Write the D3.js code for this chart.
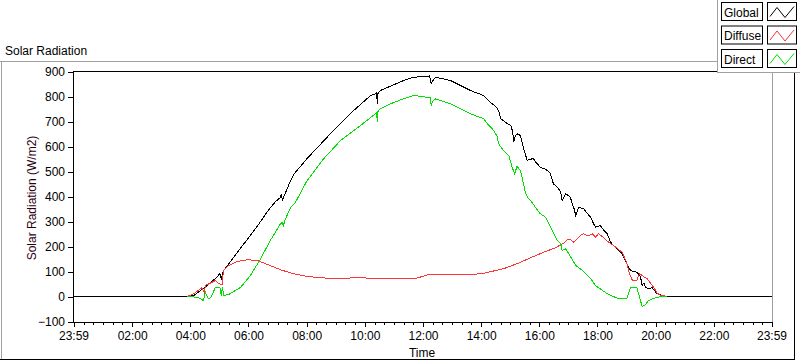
<!DOCTYPE html>
<html>
<head>
<meta charset="utf-8">
<script src="https://cdn.jsdelivr.net/npm/d3@7"></script>
<style>
  html, body { margin: 0; padding: 0; background: #fff; }
  svg { display: block; }
  text { font-family: "Liberation Sans", Arial, sans-serif; fill: #000; }
</style>
</head>
<body>
<svg id="chart" width="800" height="361"></svg>
<script>
// ---------------- DATA ----------------
const seriesNames = ["Global", "Diffuse", "Direct"];
const seriesColors = ["#000000", "#ff3333", "#00e000"];

const xTickTimes  = ["-00:01","02:00","04:00","06:00","08:00","10:00","12:00","14:00","16:00","18:00","20:00","22:00","23:59"];
const xTickLabels = ["23:59","02:00","04:00","06:00","08:00","10:00","12:00","14:00","16:00","18:00","20:00","22:00","23:59"];
const yTicks = [-100, 0, 100, 200, 300, 400, 500, 600, 700, 800, 900];

const globalTimes = ["-00:01","03:54","04:07","04:21","04:31","04:42","04:52","05:01","05:04","05:08","05:30","06:00","06:20","06:39","06:55","07:06","07:08","07:10","07:13","07:27","07:33","08:01","08:49","09:37","10:12","10:22","10:24","10:26","10:27","10:32","11:20","11:41","12:11","12:13","12:15","12:17","12:20","12:26","12:57","13:38","14:05","14:19","14:30","14:36","14:40","14:50","15:01","15:05","15:07","15:10","15:14","15:21","15:27","15:35","15:40","15:48","15:52","15:56","16:02","16:09","16:16","16:23","16:29","16:37","16:44","16:47","16:54","17:00","17:04","17:08","17:12","17:15","17:21","17:26","17:31","17:40","17:46","17:52","17:56","18:06","18:14","18:20","18:27","18:37","18:51","19:01","19:08","19:15","19:22","19:29","19:32","19:36","19:39","19:45","19:53","20:03","20:16","20:24","23:59"];
const globalValues = [0,0,4,24,37,57,72,91,71,101,158,235,286,340,378,396,411,384,400,464,488,552,651,744,804,811,815,771,812,824,864,877,881,882,870,851,862,877,864,824,804,777,760,744,712,697,684,660,617,640,651,644,597,544,548,552,538,531,517,512,505,491,451,437,420,384,411,404,397,371,350,324,357,354,352,330,317,291,277,284,262,251,217,197,171,131,104,100,97,77,44,55,37,31,35,11,3,0,0];

const diffuseTimes = ["03:54","04:07","04:21","04:24","04:27","04:29","04:31","04:45","04:52","04:58","05:06","05:07","05:09","05:19","05:37","05:57","06:18","06:39","07:06","07:33","08:01","08:29","08:55","09:30","09:51","10:32","11:00","11:41","11:55","12:11","13:00","13:38","14:05","14:46","15:14","15:48","16:09","16:33","16:50","16:58","17:04","17:11","17:18","17:25","17:31","17:36","17:42","17:49","17:56","18:02","18:12","18:23","18:33","18:51","19:01","19:05","19:12","19:21","19:25","19:27","19:35","19:43","19:50","19:56","20:03","20:10","20:24"];
const diffuseValues = [0,11,31,35,24,17,44,57,64,51,48,80,104,124,140,147,144,128,107,91,80,75,72,74,75,71,72,71,78,87,87,87,93,111,131,160,177,195,213,227,228,217,230,244,251,246,244,251,237,251,237,217,204,177,131,97,64,64,84,91,80,70,51,37,13,5,0];

const directTimes = ["03:54","04:07","04:17","04:27","04:31","04:37","04:42","04:52","05:01","05:04","05:06","05:09","05:19","05:44","06:04","06:25","06:45","07:06","07:10","07:12","07:14","07:27","07:37","08:01","08:35","09:10","09:51","10:22","10:24","10:26","10:27","10:32","10:53","11:20","11:41","12:09","12:15","12:17","12:20","12:26","12:57","13:38","14:05","14:16","14:26","14:33","14:36","14:46","14:57","15:04","15:09","15:14","15:21","15:32","15:36","15:42","15:47","15:52","16:02","16:13","16:27","16:37","16:44","16:47","16:54","17:01","17:15","17:29","17:46","17:56","18:20","18:41","19:01","19:08","19:21","19:25","19:32","19:39","19:45","20:03","20:16","20:24"];
const directValues = [0,-2,-5,-16,17,-9,-5,37,37,4,37,4,8,37,84,151,224,291,296,277,300,357,377,464,551,624,684,731,735,697,740,751,771,791,804,797,795,764,780,791,771,731,711,684,664,640,611,584,564,517,491,520,504,411,395,384,370,357,331,317,264,224,211,184,191,171,124,104,71,44,11,-7,-7,37,36,11,-40,-33,-16,-3,0,0];

// ---------------- CHART ----------------
const svg = d3.select("#chart");
const toMin = s => { const neg = s[0] === "-"; const [h, m] = s.replace("-", "").split(":").map(Number); return (neg ? -1 : 1) * (h * 60 + m); };

const x = d3.scaleLinear().domain([-1, 1439]).range([73.5, 771.5]);
const y = d3.scaleLinear().domain([-100, 900]).range([321.5, 71.5]);

// panel frame
svg.append("line").attr("x1", 0).attr("x2", 717).attr("y1", 61.5).attr("y2", 61.5).attr("stroke", "#a0a0a0");
svg.append("line").attr("x1", 1.5).attr("x2", 1.5).attr("y1", 61.5).attr("y2", 360).attr("stroke", "#a0a0a0");
svg.append("line").attr("x1", 0).attr("x2", 795).attr("y1", 359.5).attr("y2", 359.5).attr("stroke", "#000");
svg.append("line").attr("x1", 794.5).attr("x2", 794.5).attr("y1", 72).attr("y2", 360).attr("stroke", "#000");

svg.append("text").attr("x", 5).attr("y", 55).style("font-size", "12px").text("Solar Radiation");

// plot area
svg.append("rect").attr("x", 73.5).attr("y", 71.5).attr("width", 698).attr("height", 250)
  .attr("fill", "#fff").attr("stroke", "none");

// series
const series = [
  {times: globalTimes, values: globalValues},
  {times: diffuseTimes, values: diffuseValues},
  {times: directTimes, values: directValues}
];
const line = d3.line().x(d => x(d[0])).y(d => y(d[1]));
series.forEach((s, i) => {
  const pts = s.times.map((t, j) => [toMin(t), s.values[j]]);
  svg.append("path").datum(pts).attr("d", line)
    .attr("fill", "none").attr("stroke", seriesColors[i]).attr("stroke-width", 1)
    .style("shape-rendering", "crispEdges");
});

// frame lines of plot
svg.append("line").attr("x1", 73).attr("x2", 772).attr("y1", 71.5).attr("y2", 71.5).attr("stroke", "#000");
svg.append("line").attr("x1", 772.5).attr("x2", 772.5).attr("y1", 71).attr("y2", 322).attr("stroke", "#a0a0a0");

// y axis
const yAxis = d3.axisLeft(y).tickValues(yTicks).tickSize(5).tickPadding(3).tickFormat(d3.format("d"));
const gy = svg.append("g").attr("transform", "translate(73,0)").call(yAxis);
gy.select(".domain").attr("stroke", "#000").style("shape-rendering", "crispEdges");
gy.selectAll(".tick line").attr("stroke", "#000").style("shape-rendering", "crispEdges");
gy.selectAll("text").style("font-size", "12px").style("font-family", "Liberation Sans, Arial, sans-serif").attr("fill", "#000");

// x axis
const xMajor = xTickTimes.map(toMin);
const xMinor = d3.range(0, 1440, 20).filter(m => m > 0 && m < 1439 && m % 120 !== 0);
const gxMinor = svg.append("g").attr("transform", "translate(0,322)")
  .call(d3.axisBottom(x).tickValues(xMinor).tickSize(3).tickFormat(""));
gxMinor.select(".domain").remove();
gxMinor.selectAll(".tick line").attr("stroke", "#000").style("shape-rendering", "crispEdges");
const xAxis = d3.axisBottom(x).tickValues(xMajor).tickSize(5).tickPadding(4)
  .tickFormat((d, i) => xTickLabels[i]);
const gx = svg.append("g").attr("transform", "translate(0,322)").call(xAxis);
gx.select(".domain").attr("stroke", "#000").attr("d", "M73,0.5H772").style("shape-rendering", "crispEdges");
gx.selectAll(".tick line").attr("stroke", "#000").style("shape-rendering", "crispEdges");
gx.selectAll("text").style("font-size", "12px").style("font-family", "Liberation Sans, Arial, sans-serif").attr("fill", "#000");

// axis titles
svg.append("text").attr("x", 422).attr("y", 357).attr("text-anchor", "middle").style("font-size", "12px").text("Time");
svg.append("text").attr("transform", "translate(36,198) rotate(-90)").attr("text-anchor", "middle")
  .style("font-size", "12px").style("fill", "#2a0010").text("Solar Radiation (W/m2)");

// legend
const lg = svg.append("g");
lg.append("rect").attr("x", 717.5).attr("y", -1).attr("width", 90).attr("height", 73.5)
  .attr("fill", "#fff").attr("stroke", "#a0a0a0");
seriesNames.forEach((name, i) => {
  const top = 2.5 + i * 23.5;
  lg.append("rect").attr("x", 721.5).attr("y", top).attr("width", 41).attr("height", 18)
    .attr("fill", "#fff").attr("stroke", "#000");
  lg.append("text").attr("x", 724).attr("y", top + 14).style("font-size", "12px").text(name);
  lg.append("rect").attr("x", 767.5).attr("y", top).attr("width", 29).attr("height", 18)
    .attr("fill", "#fff").attr("stroke", "#000");
  const sw = [[770, top + 14], [777, top + 5], [785, top + 15], [794, top + 4]];
  lg.append("path").attr("d", d3.line()(sw)).attr("fill", "none").attr("stroke", seriesColors[i]);
});
</script>
</body>
</html>
